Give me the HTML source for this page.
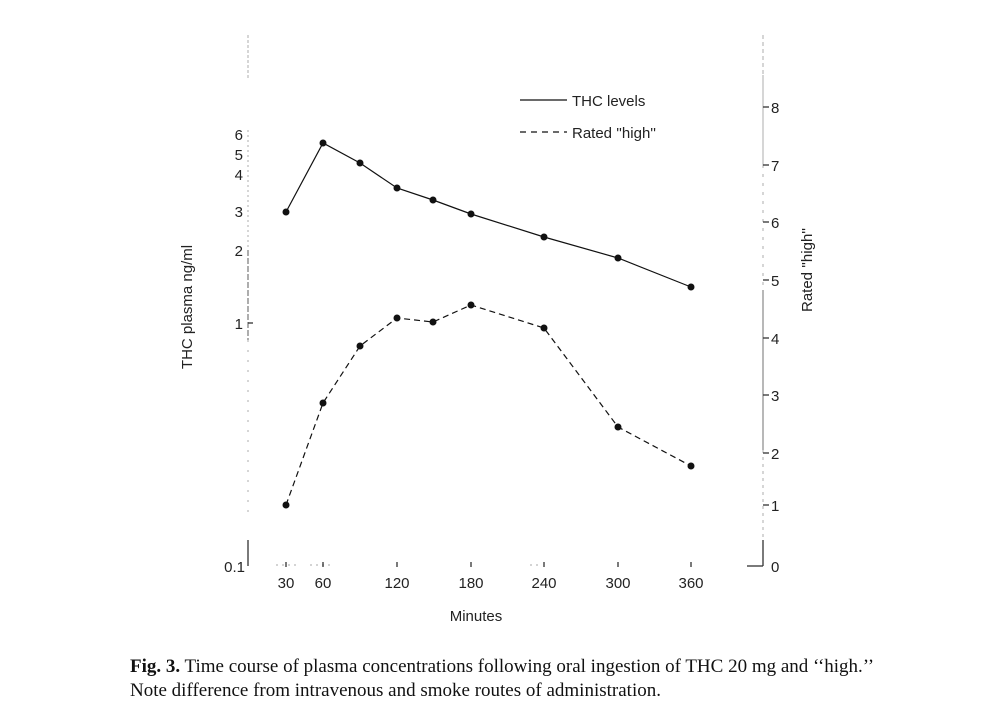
<!DOCTYPE html>
<html><head><meta charset="utf-8"><style>
body{margin:0;background:#fff;}
svg{display:block;font-family:"Liberation Sans",sans-serif;}
.cap{font-family:"Liberation Serif",serif;}
</style></head><body>
<svg width="996" height="720" viewBox="0 0 996 720">
<g stroke="#bbb" stroke-width="1.2" fill="none">
<line x1="248" y1="35" x2="248" y2="80" stroke-dasharray="3,2"/>
<line x1="248" y1="130" x2="248" y2="250" stroke-dasharray="2,3"/>
<line x1="248" y1="250" x2="248" y2="340" stroke="#777" stroke-dasharray="6,2"/>
<line x1="248" y1="340" x2="248" y2="520" stroke-dasharray="2,8"/>
<line x1="763" y1="35" x2="763" y2="75" stroke-dasharray="4,3"/>
<line x1="763" y1="75" x2="763" y2="165"/>
<line x1="763" y1="165" x2="763" y2="290" stroke-dasharray="3,6"/>
<line x1="763" y1="290" x2="763" y2="450" stroke="#888"/>
<line x1="763" y1="450" x2="763" y2="540" stroke-dasharray="3,4"/>
<line x1="276" y1="565" x2="300" y2="565" stroke-dasharray="2,4"/>
<line x1="310" y1="565" x2="330" y2="565" stroke-dasharray="2,4"/>
<line x1="530" y1="565" x2="540" y2="565" stroke-dasharray="2,4"/>
</g>
<g stroke="#333" stroke-width="1.3" fill="none">
<line x1="248" y1="540" x2="248" y2="566"/>
<line x1="763" y1="540" x2="763" y2="566"/>
<line x1="747" y1="566" x2="763" y2="566"/>
<line x1="248" y1="323" x2="253" y2="323"/>
<line x1="763" y1="107" x2="769" y2="107"/><line x1="763" y1="165" x2="769" y2="165"/>
<line x1="763" y1="222" x2="769" y2="222"/><line x1="763" y1="280" x2="769" y2="280"/>
<line x1="763" y1="338" x2="769" y2="338"/><line x1="763" y1="395" x2="769" y2="395"/>
<line x1="763" y1="453" x2="769" y2="453"/><line x1="763" y1="505" x2="769" y2="505"/>
<line x1="286" y1="562" x2="286" y2="567"/><line x1="323" y1="562" x2="323" y2="567"/>
<line x1="397" y1="562" x2="397" y2="567"/><line x1="471" y1="562" x2="471" y2="567"/>
<line x1="544" y1="562" x2="544" y2="567"/><line x1="618" y1="562" x2="618" y2="567"/>
<line x1="691" y1="562" x2="691" y2="567"/>
</g>
<g font-size="15" fill="#222">
<text x="243" y="140" text-anchor="end">6</text>
<text x="243" y="160" text-anchor="end">5</text>
<text x="243" y="180" text-anchor="end">4</text>
<text x="243" y="217" text-anchor="end">3</text>
<text x="243" y="256" text-anchor="end">2</text>
<text x="243" y="329" text-anchor="end">1</text>
<text x="245" y="572" text-anchor="end">0.1</text>
<text x="771" y="113">8</text><text x="771" y="171">7</text><text x="771" y="228">6</text>
<text x="771" y="286">5</text><text x="771" y="344">4</text><text x="771" y="401">3</text>
<text x="771" y="459">2</text><text x="771" y="511">1</text><text x="771" y="572">0</text>
<g text-anchor="middle">
<text x="286" y="588">30</text><text x="323" y="588">60</text><text x="397" y="588">120</text>
<text x="471" y="588">180</text><text x="544" y="588">240</text><text x="618" y="588">300</text>
<text x="691" y="588">360</text>
<text x="476" y="621">Minutes</text>
</g>
<text transform="translate(192,307) rotate(-90)" text-anchor="middle">THC plasma ng/ml</text>
<text transform="translate(812,270) rotate(-90)" text-anchor="middle">Rated ''high''</text>
<text x="572" y="106">THC levels</text>
<text x="572" y="138">Rated ''high''</text>
</g>
<g stroke="#111" stroke-width="1.2" fill="none">
<line x1="520" y1="100" x2="567" y2="100"/>
<line x1="520" y1="132" x2="567" y2="132" stroke-dasharray="6,5"/>
<polyline points="286,212 323,143 360,163 397,188 433,200 471,214 544,237 618,258 691,287"/>
<polyline stroke-dasharray="6,4" points="286,505 323,403 360,346 397,318 433,322 471,305 544,328 618,427 691,466"/>
</g>
<g fill="#111">
<circle cx="286" cy="212" r="3.5"/><circle cx="323" cy="143" r="3.5"/><circle cx="360" cy="163" r="3.5"/>
<circle cx="397" cy="188" r="3.5"/><circle cx="433" cy="200" r="3.5"/><circle cx="471" cy="214" r="3.5"/>
<circle cx="544" cy="237" r="3.5"/><circle cx="618" cy="258" r="3.5"/><circle cx="691" cy="287" r="3.5"/>
<circle cx="286" cy="505" r="3.5"/><circle cx="323" cy="403" r="3.5"/><circle cx="360" cy="346" r="3.5"/>
<circle cx="397" cy="318" r="3.5"/><circle cx="433" cy="322" r="3.5"/><circle cx="471" cy="305" r="3.5"/>
<circle cx="544" cy="328" r="3.5"/><circle cx="618" cy="427" r="3.5"/><circle cx="691" cy="466" r="3.5"/>
</g>
<g class="cap" font-size="19" fill="#111">
<text x="130" y="672"><tspan font-weight="bold">Fig. 3.</tspan> Time course of plasma concentrations following oral ingestion of THC 20 mg and ‘‘high.’’</text>
<text x="130" y="696">Note difference from intravenous and smoke routes of administration.</text>
</g>
</svg>
</body></html>
